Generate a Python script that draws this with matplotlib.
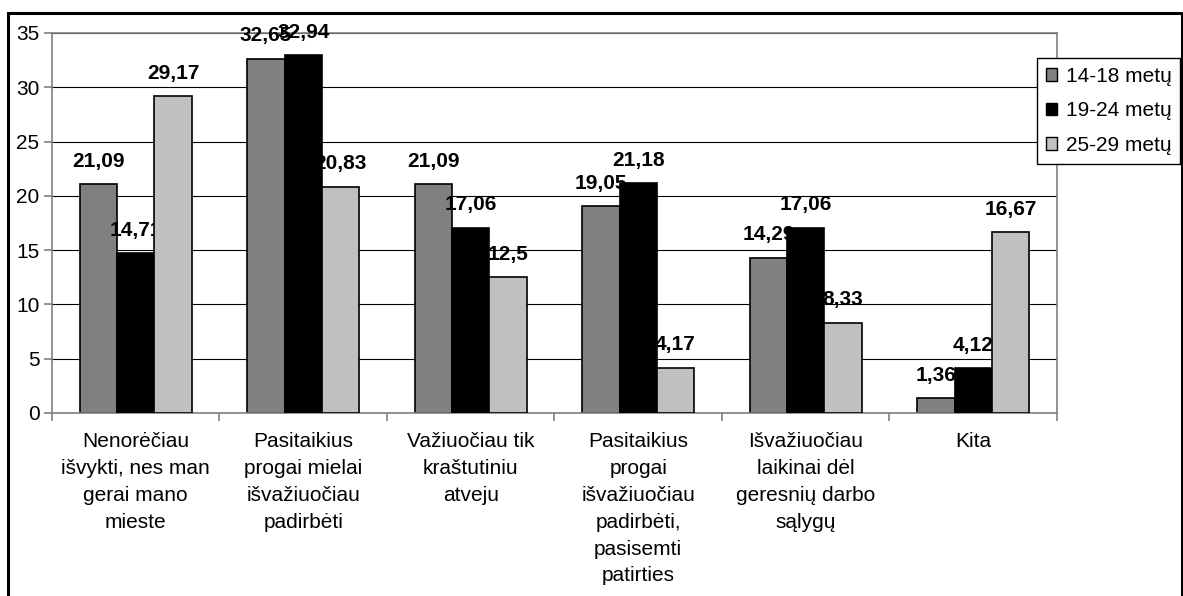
import numpy as np
import matplotlib
matplotlib.use('Agg')
import matplotlib.pyplot as plt
from matplotlib.patches import Rectangle

categories = [
    "Nenorėčiau\nišvykti, nes man\ngerai mano\nmieste",
    "Pasitaikius\nprogai mielai\nišvažiuočiau\npadirbėti",
    "Važiuočiau tik\nkraštutiniu\natveju",
    "Pasitaikius\nprogai\nišvažiuočiau\npadirbėti,\npasisemti\npatirties",
    "Išvažiuočiau\nlaikinai dėl\ngeresnių darbo\nsąlygų",
    "Kita",
]
series_names = ["14-18 metų", "19-24 metų", "25-29 metų"]
age_14_18 = [21.09, 32.65, 21.09, 19.05, 14.29, 1.36]
age_19_24 = [14.71, 32.94, 17.06, 21.18, 17.06, 4.12]
age_25_29 = [29.17, 20.83, 12.5, 4.17, 8.33, 16.67]
y_ticks = [0, 5, 10, 15, 20, 25, 30, 35]

plt.rcParams['font.family'] = ['Liberation Sans', 'DejaVu Sans']

W, H = 1183, 596
fig = plt.figure(figsize=(W / 100, H / 100), dpi=100)
ax = fig.add_axes([52 / W, 1 - 413 / H, (1057 - 52) / W, (413 - 33) / H])

series = [age_14_18, age_19_24, age_25_29]
colors = ['#808080', '#000000', '#c0c0c0']
# labels sit between bar layers, like in the original
bar_z = [2, 4, 4]
n = len(categories)
w = 1 / 4.5
x = np.arange(n) + 0.5

for k, vals in enumerate(series):
    pos = x + (k - 1) * w
    ax.bar(pos, vals, width=w, color=colors[k], edgecolor='black',
           linewidth=1.2, label=series_names[k], zorder=bar_z[k])
    for xi, v in zip(pos, vals):
        ax.annotate(f"{v:g}".replace('.', ','), (xi, v), xytext=(0, 12.5),
                    textcoords='offset points', ha='center', va='baseline',
                    fontsize=15, fontweight='bold', zorder=3)

ax.set_xlim(0, n)
ax.set_ylim(0, 35)
ax.set_yticks(y_ticks)
ax.yaxis.grid(True, color='black', linewidth=0.8, zorder=0)
ax.set_axisbelow(True)

ax.set_xticks(x)
ax.set_xticklabels(categories, fontsize=15, linespacing=1.52)
ax.tick_params(axis='x', which='major', length=0, pad=14)
ax.set_xticks(np.arange(n + 1), minor=True)
ax.tick_params(axis='x', which='minor', length=6, color='#808080', width=1.2)
ax.tick_params(axis='y', length=6, color='#808080', width=1.2, labelsize=15, pad=3)

for s in ax.spines.values():
    s.set_color('#808080')
    s.set_linewidth(1.2)

leg = ax.legend(loc='upper left', bbox_to_anchor=(1037 / W, 1 - 58 / H),
                bbox_transform=fig.transFigure, borderaxespad=0,
                fancybox=False, edgecolor='black', fontsize=15,
                handlelength=0.55, handleheight=0.55, handletextpad=0.4,
                labelspacing=0.75, borderpad=0.42, framealpha=1)
leg.get_frame().set_linewidth(1.0)
for h in leg.legend_handles:
    h.set_linewidth(1.0)

fig.patches.append(Rectangle((8 / W, -0.1), (1182 - 8) / W, 1.1 - 13 / H,
                             transform=fig.transFigure, fill=False,
                             edgecolor='black', linewidth=2.2))

fig.savefig('out.png', dpi=100)
